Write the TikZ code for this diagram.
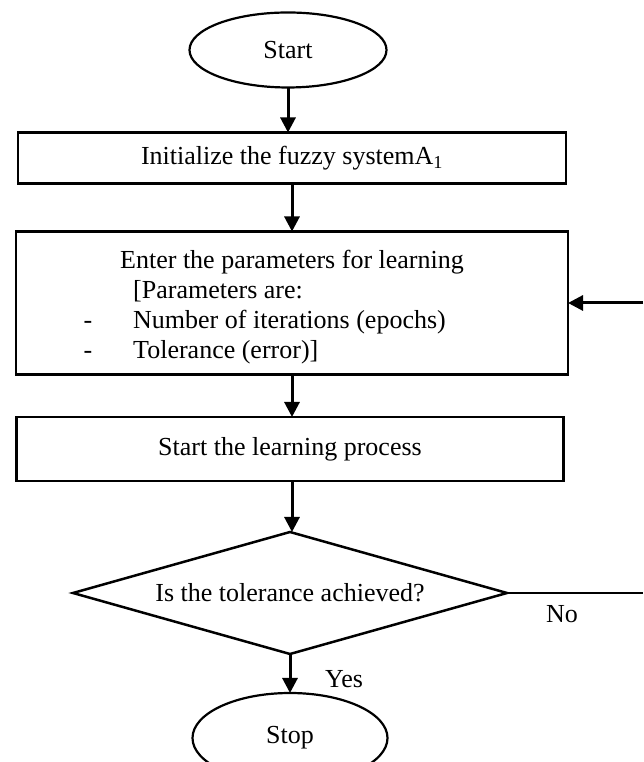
\documentclass[tikz,border=0pt]{standalone}
\usepackage{fontspec}
\setmainfont{Liberation Serif}
\usepackage{tikz}
\usetikzlibrary{positioning, arrows.meta, shapes.geometric}

\begin{document}
\begin{tikzpicture}[
    x=1pt, y=1pt,
    font=\fontsize{26}{30}\selectfont,
    term/.style={draw, ellipse, line width=2.2pt, inner sep=0pt, outer sep=0pt},
    box/.style={draw, rectangle, line width=2.2pt, inner sep=0pt, outer sep=0pt},
    decide/.style={draw, diamond, aspect=3.56, line width=2.5pt, inner sep=0pt, outer sep=0pt},
    lbl/.style={inner sep=0pt},
    flow/.style={line width=3pt, -{Triangle[length=15pt, width=15pt]}},
    link/.style={line width=2.5pt},
]
\useasboundingbox (0, 0) rectangle (643, 762);

% Terminals
\node[term, minimum width=197pt, minimum height=75pt] (start) at (288, 712) {Start};
\node[term, minimum width=195pt, minimum height=90pt] (stop) at (290, 24) {Stop};

% Process boxes
\node[box, minimum width=548pt, minimum height=51pt] (init) at (292, 604) {Initialize the fuzzy systemA\textsubscript{1}};
\node[box, minimum width=552pt, minimum height=143pt] (params) at (292, 459) {};
\node[box, minimum width=547pt, minimum height=64pt] (learn) at (290, 313) {Start the learning process};

% Text of the parameter box
\node[lbl, anchor=base] (enter) at (292, 493) {Enter the parameters for learning};
\node[lbl, anchor=base west] (parlist) at (133, 463) {[Parameters are:};
\node[lbl, anchor=base] (dash1) at (88, 433) {-};
\node[lbl, anchor=base west] (iters) at (133, 433) {Number of iterations (epochs)};
\node[lbl, anchor=base] (dash2) at (88, 403) {-};
\node[lbl, anchor=base west] (tol) at (133, 403) {Tolerance (error)]};

% Decision
\node[decide, minimum width=434pt, minimum height=122pt] (check) at (290, 169) {Is the tolerance achieved?};

% Branch labels
\node[lbl] (nolbl) at (562, 148) {No};
\node[lbl] (yeslbl) at (344, 83) {Yes};

% Loose ends at the right margin
\coordinate (noend) at (643, 169);
\coordinate (back) at (643, 459);

% Main flow
\draw[flow] (start.south) -- (start.south |- init.north);
\draw[flow] (init.south) -- (params.north);
\draw[flow] (params.south) -- (params.south |- learn.north);
\draw[flow] (params.south |- learn.south) -- (params.south |- check.north);
\draw[flow] (check.south) -- (stop.north);

% No branch
\draw[link] (check.east) -- (noend);
\draw[flow] (back) -- (params.east);

\end{tikzpicture}
\end{document}
